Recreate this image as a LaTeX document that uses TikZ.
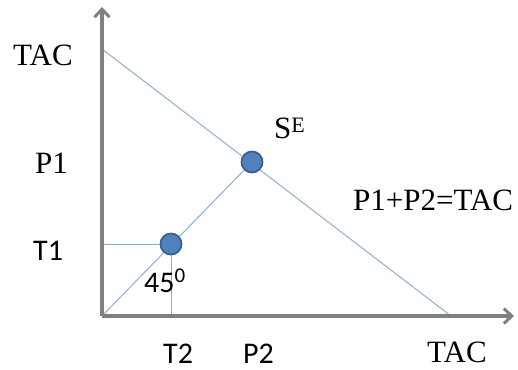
\documentclass[tikz,border=0pt]{standalone}
\usepackage{fontspec}
\setmainfont{Liberation Serif}
\newfontfamily\calib{Carlito}
\usetikzlibrary{arrows.meta}
\definecolor{axisgray}{HTML}{808080}
\definecolor{thinblue}{HTML}{8EAECF}
\definecolor{dotfill}{HTML}{4F81BD}
\definecolor{dotdraw}{HTML}{385D8A}
\newcommand{\mysup}[3]{\raisebox{#2}{\fontsize{#1}{#1}\selectfont #3}}
\tikzset{
  axisline/.style={draw=axisgray, line width=3.2pt, -{Straight Barb[length=8pt,width=15pt,line width=3pt]}},
  guide/.style={draw=thinblue, line width=1pt},
  dotnode/.style={circle, fill=dotfill, draw=dotdraw, line width=1.5pt, minimum size=21pt, inner sep=0pt},
  serlab/.style={anchor=base west, inner sep=0pt, font=\fontsize{31}{33}\selectfont},
  sanlab/.style={anchor=base west, inner sep=0pt, font=\calib\fontsize{30}{32}\selectfont},
}
\begin{document}
\begin{tikzpicture}[x=1pt,y=-1pt]
\useasboundingbox (0,0) rectangle (518,369);
\coordinate (O) at (102,316);
\coordinate (ytop) at (102,7);
\coordinate (xend) at (514,316);
\coordinate (tacy) at (102,49);
\coordinate (tacx) at (451,316);
\coordinate (t1y) at (102,244);
\coordinate (t2x) at (171,316);
\node[dotnode] (dt) at (171,244) {};
\node[dotnode] (ds) at (252,162) {};
% guides
\draw[guide] (tacy) -- (tacx);
\draw[guide] (O) -- (ds.center);
\draw[guide] (t1y) -- (dt.center);
\draw[guide] (dt.center) -- (t2x);
% axes
\draw[axisline] (O) -- (ytop);
\draw[axisline] (O) -- (xend);
% dots on top
\node[dotnode] at (dt) {};
\node[dotnode] at (ds) {};
% labels
\node[serlab] (ltac) at (13,65) {TAC};
\node[serlab] (lp1) at (35,173) {P1};
\node[sanlab] (lt1) at (33,260) {T1};
\node[sanlab] (l45) at (144,292) {45\mysup{21}{10pt}{0}};
\node[sanlab] (lt2) at (163,363) {T2};
\node[sanlab] (lp2) at (243,363) {P2};
\node[serlab] (ltacx) at (427,362) {TAC};
\node[serlab] (lse) at (274,138) {S\mysup{22}{6pt}{E}};
\node[serlab] (leq) at (353,210) {P1+P2=TAC};
\end{tikzpicture}
\end{document}
